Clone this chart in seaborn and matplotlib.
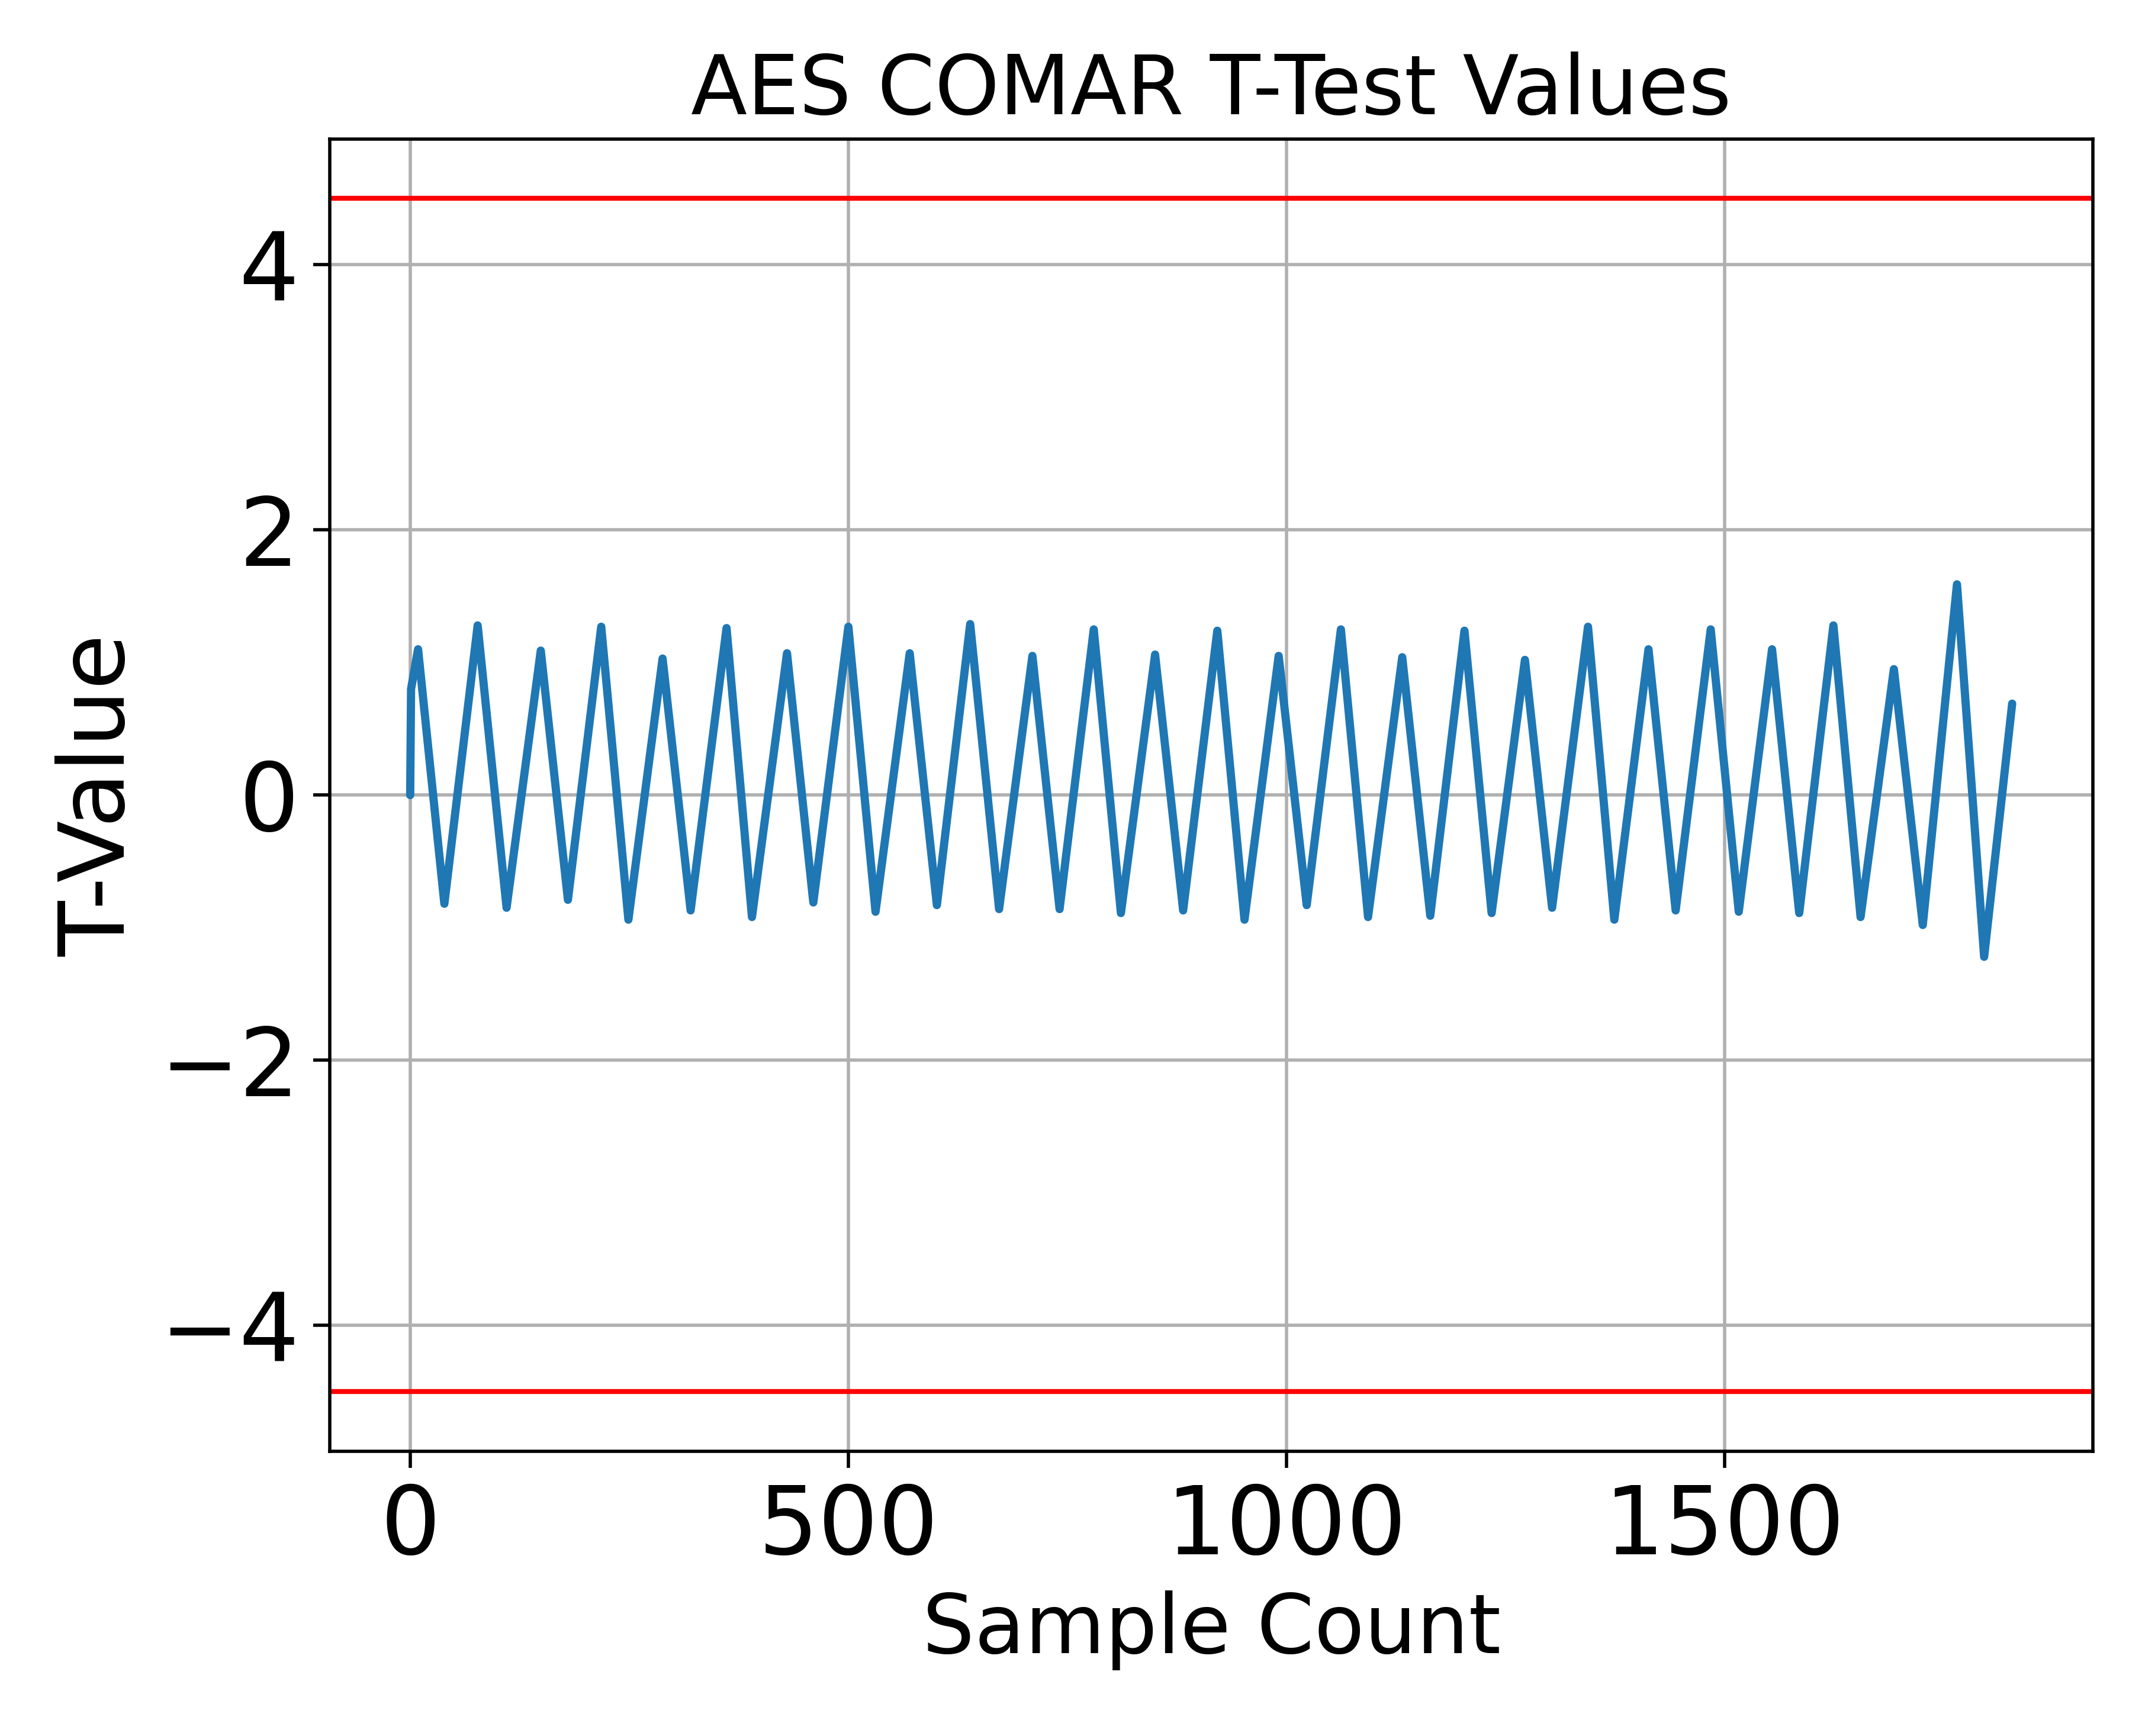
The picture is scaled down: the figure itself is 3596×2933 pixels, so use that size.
import matplotlib
matplotlib.use("Agg")
import matplotlib.pyplot as plt
import seaborn as sns
import pandas as pd

sample = [0, 1, 9, 39, 77, 110, 149, 180, 218, 249, 288, 320, 361, 390, 430, 460, 500, 531, 570, 601, 639, 672,
          710, 741, 780, 811, 850, 882, 921, 952, 991, 1023, 1062, 1093, 1132, 1164, 1203, 1234, 1272, 1303,
          1344, 1374, 1413, 1444, 1484, 1516, 1554, 1585, 1624, 1655, 1693, 1726, 1765, 1796, 1828]
tval = [0, 0.8, 1.1, -0.82, 1.28, -0.85, 1.09, -0.79, 1.27, -0.94, 1.03, -0.87, 1.26, -0.92, 1.07, -0.81,
        1.27, -0.88, 1.07, -0.83, 1.29, -0.86, 1.05, -0.86, 1.25, -0.89, 1.06, -0.87, 1.24, -0.94, 1.05, -0.83,
        1.25, -0.92, 1.04, -0.91, 1.24, -0.89, 1.02, -0.85, 1.27, -0.94, 1.1, -0.87, 1.25, -0.88, 1.1, -0.89,
        1.28, -0.92, 0.95, -0.98, 1.59, -1.22, 0.69]
threshold = 4.5

df = pd.DataFrame({"Sample Count": sample, "T-Value": tval})
sns.set_style("ticks")
plt.rcParams["text.color"] = "black"
plt.rcParams["axes.labelcolor"] = "black"
plt.rcParams["xtick.color"] = "black"
plt.rcParams["ytick.color"] = "black"
fig = plt.figure(figsize=(7.192, 5.866), dpi=500)
ax = fig.add_axes([0.155, 0.164, 0.828, 0.756])
sns.lineplot(data=df, x="Sample Count", y="T-Value", ax=ax, color="#1f77b4", linewidth=2)
ax.axhline(threshold, color="red", linewidth=1.2)
ax.axhline(-threshold, color="red", linewidth=1.2)
ax.set_xlim(-91.5, 1920)
ax.set_ylim(-4.95, 4.95)
ax.set_xticks([0, 500, 1000, 1500])
ax.set_yticks([-4, -2, 0, 2, 4])
ax.grid(True, color="#b0b0b0", linewidth=0.8)
ax.tick_params(labelsize=23, length=4, width=0.8, colors="black")
ax.set_xlabel("Sample Count", fontsize=20, color="black")
ax.set_ylabel("T-Value", fontsize=22, color="black")
ax.set_title("AES COMAR T-Test Values", fontsize=20, color="black")
for s in ax.spines.values():
    s.set_color("black"); s.set_linewidth(0.8)
fig.savefig("out.png", dpi=500)
